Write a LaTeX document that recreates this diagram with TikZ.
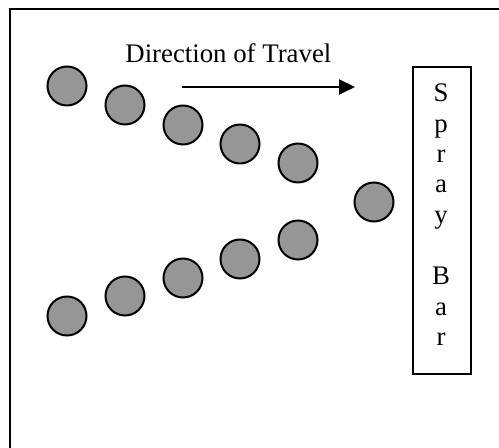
\documentclass[tikz,border=0pt]{standalone}
\usepackage{fontspec}
\setmainfont{Liberation Serif}
\usetikzlibrary{arrows.meta}
\begin{document}
\begin{tikzpicture}[x=0.5pt,y=-0.5pt,
  ball/.style={circle,draw=black,line width=1pt,fill=ballgray,minimum size=19.5pt,inner sep=0pt},
  lbl/.style={font=\fontsize{13.4pt}{15.25pt}\selectfont,inner sep=0pt,anchor=base},
  barbox/.style={draw=black,line width=1pt,inner sep=0pt}]
\definecolor{ballgray}{HTML}{969696}
\useasboundingbox (0,0) rectangle (499,448);
\clip (0,0) rectangle (499,448);
\fill[white] (0,0) rectangle (499,448);
\draw[line width=1pt] (10,9) rectangle (540,480);
% balls top row
\node[ball] (t1) at (67,86) {};
\node[ball] (t2) at (125,105) {};
\node[ball] (t3) at (183,125) {};
\node[ball] (t4) at (240,144) {};
\node[ball] (t5) at (298,163) {};
\node[ball] (m) at (374,202) {};
\node[ball] (b5) at (298,240) {};
\node[ball] (b4) at (240,259) {};
\node[ball] (b3) at (183,278) {};
\node[ball] (b2) at (125,296) {};
\node[ball] (b1) at (67,316) {};
% title and arrow
\node[lbl,anchor=base west] (dir) at (125,63) {Direction of Travel};
\coordinate (as) at (182,87);
\coordinate (ae) at (355,87);
\draw[line width=1pt,-{Triangle[length=8pt,width=7.5pt]}] (as) -- (ae);
% spray bar
\node[barbox,minimum width=29pt,minimum height=153.5pt] (bar) at (442,220.5) {};
\foreach \ch/\y in {S/102,p/133,r/163,a/193,y/224,B/285,a/316,r/346}
  \node[lbl] at (441,\y) {\ch};
\end{tikzpicture}
\end{document}
